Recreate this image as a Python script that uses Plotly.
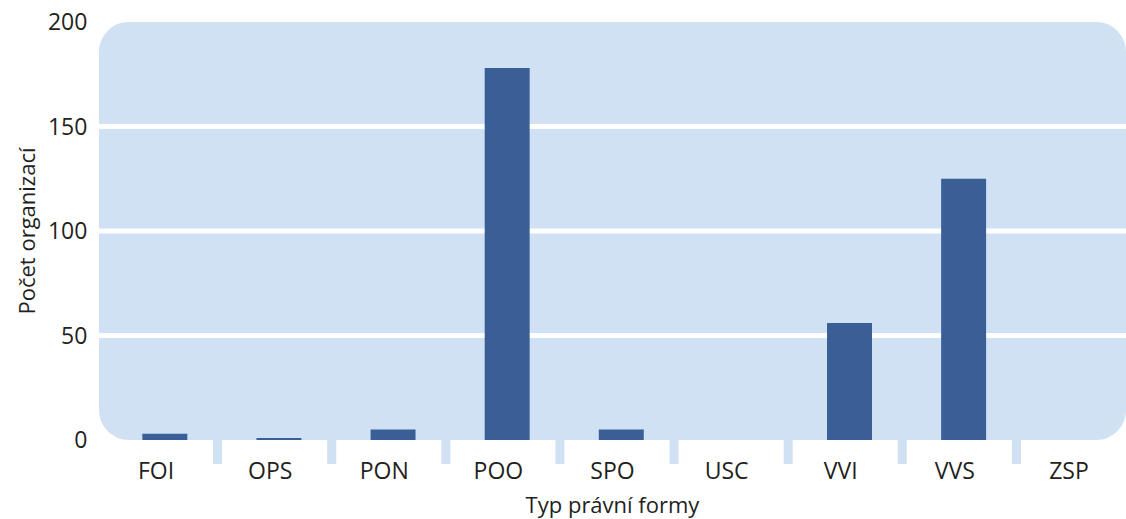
import plotly.graph_objects as go

categories = ["FOI", "OPS", "PON", "POO", "SPO", "USC", "VVI", "VVS", "ZSP"]
counts = [3, 1, 5, 178, 5, 0, 56, 125, 0]
y_ticks = [0, 50, 100, 150, 200]
grid_values = [50, 100, 150]

BG = "#cfe1f2"
BAR = "#395f96"
TXT = "#231f20"
FONT = "Open Sans"

W, H = 1126, 519
ML, MR, MT, MB = 99, 0, 21.5, 79.3
PW = W - ML - MR
PH = H - MT - MB
R = 30
rx, ry = R / PW, R / PH
k = 0.5523
path = (
    f"M {rx},0 L {1-rx},0 C {1-rx+k*rx},0 1,{ry-k*ry} 1,{ry} "
    f"L 1,{1-ry} C 1,{1-ry+k*ry} {1-rx+k*rx},1 {1-rx},1 "
    f"L {rx},1 C {rx-k*rx},1 0,{1-ry+k*ry} 0,{1-ry} "
    f"L 0,{ry} C 0,{ry-k*ry} {rx-k*rx},0 {rx},0 Z"
)

shapes = [dict(type="path", path=path, xref="paper", yref="paper",
               fillcolor=BG, line=dict(width=0), layer="below")]
for v in grid_values:
    shapes.append(dict(type="line", xref="paper", yref="y", x0=0, x1=1, y0=v, y1=v,
                       line=dict(color="white", width=5), layer="below"))
for i in range(len(categories) - 1):
    shapes.append(dict(type="rect", xref="x", yref="paper",
                       xsizemode="pixel", xanchor=i + 0.5, x0=0, x1=9,
                       ysizemode="pixel", yanchor=0, y0=-24, y1=0,
                       fillcolor=BG, line=dict(width=0), layer="below"))

fig = go.Figure(go.Bar(x=categories, y=counts, width=0.394, offset=-0.12,
                       marker=dict(color=BAR, line=dict(width=0))))

fig.update_layout(
    width=W, height=H,
    margin=dict(l=ML, r=MR, t=MT, b=MB),
    paper_bgcolor="white", plot_bgcolor="rgba(0,0,0,0)",
    font=dict(family=FONT, size=22, color=TXT),
    shapes=shapes,
    showlegend=False,
    hovermode=False,
    xaxis=dict(type="category", range=[-0.5, 8.5], showgrid=False, showline=False,
               zeroline=False, ticks="outside", ticklen=10, tickcolor="rgba(0,0,0,0)",
               tickfont=dict(size=23, color=TXT), automargin=False,
               title=dict(text="Typ právní formy", font=dict(size=22, color=TXT), standoff=14)),
    yaxis=dict(range=[0, 200], tickvals=y_ticks, showgrid=False, showline=False,
               zeroline=False, ticks="outside", ticklen=6, tickcolor="rgba(0,0,0,0)",
               tickfont=dict(size=23, color=TXT), automargin=False,
               title=dict(text="Počet organizací", font=dict(size=22, color=TXT), standoff=6)),
)

post = (
    "document.body.style.margin='0px';"
    "document.body.style.overflow='hidden';"
    "var gd=document.getElementById('{plot_id}');"
    "Plotly.relayout(gd,{width:%d,height:%d});" % (W, H)
)
fig.write_html("out.html", config={"responsive": False, "displayModeBar": False},
               post_script=post)
